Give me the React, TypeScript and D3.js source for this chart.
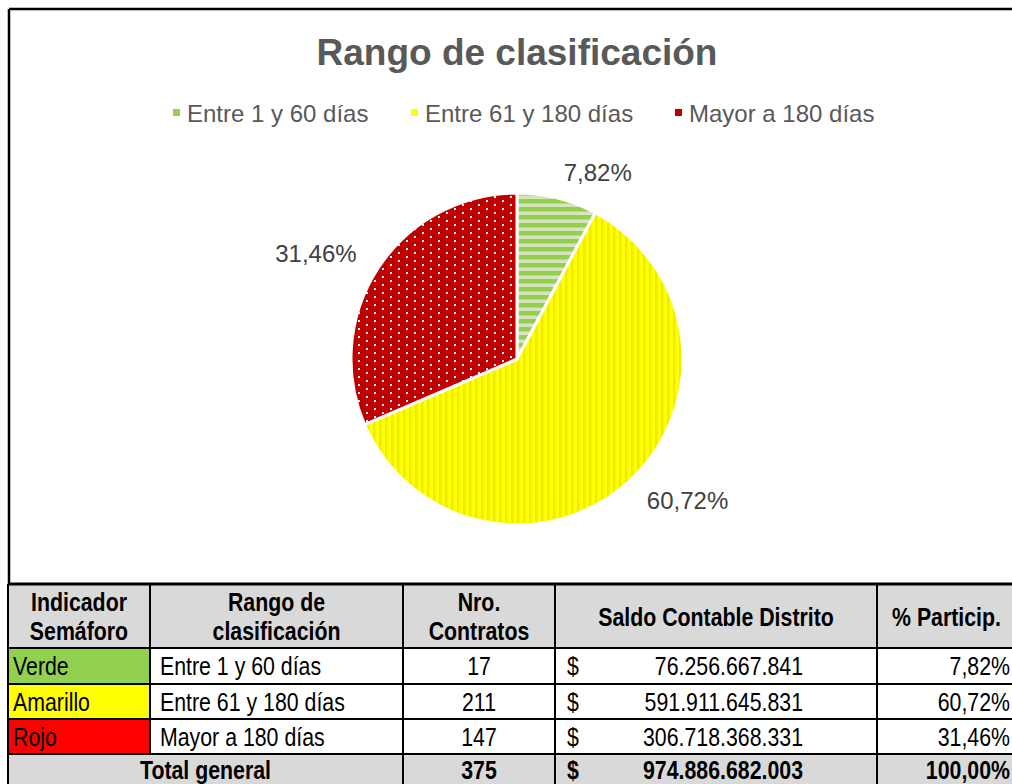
import React from "react";
import * as d3 from "d3";

const title = "Rango de clasificación";
const categories = ["Entre 1 y 60 días", "Entre 61 y 180 días", "Mayor a 180 días"];
const indicators = ["Verde", "Amarillo", "Rojo"];
const contracts = [17, 211, 147];
const saldos = ["76.256.667.841", "591.911.645.831", "306.718.368.331"];
const saldoValues = [76256667841, 591911645831, 306718368331];
const percentLabels = ["7,82%", "60,72%", "31,46%"];
const totalContracts = "375";
const totalSaldo = "974.886.682.003";
const totalPercent = "100,00%";
const totalLabel = "Total general";
const headers = [["Indicador", "Semáforo"], ["Rango de", "clasificación"], ["Nro.", "Contratos"], ["Saldo Contable Distrito"], ["% Particip."]];

const patternIds = ["pGreen", "pYellow", "pRed"];
const legendColors = ["#92D050", "#FFFF00", "#C00000"];
const indicatorColors = ["#92D050", "#FFFF00", "#FF0000"];

const W = 1012, H = 784;
const cx = 517, cy = 359, R = 166;
const colX = [8, 150, 403, 555, 877, 1016];
const rowY = [584, 648, 684, 719, 754, 790];
const FONT = "'Liberation Sans', Arial, sans-serif";
const NARROW_SCALE = 0.82;
const TFS = 26;

type NTProps = { x: number; y: number; anchor?: "start" | "middle" | "end"; bold?: boolean; children: React.ReactNode };
function NText({ x, y, anchor = "start", bold = false, children }: NTProps) {
  return (
    <text
      transform={`translate(${x},${y}) scale(${NARROW_SCALE},1)`}
      textAnchor={anchor}
      dominantBaseline="central"
      fontFamily={FONT}
      fontSize={TFS}
      fontWeight={bold ? "bold" : "normal"}
      fill="#000"
    >
      {children}
    </text>
  );
}

export default function App() {
  const pie = d3.pie<number>().sort(null).value((d) => d)(saldoValues);
  const arc = d3.arc<d3.PieArcDatum<number>>().innerRadius(0).outerRadius(R);
  const labelR = 192;
  const legendX = [187, 425, 689];

  return (
    <svg width={W} height={H} style={{ position: "absolute", left: 0, top: 0, background: "#fff" }}>
      <defs>
        <pattern id="pGreen" width="8" height="8" patternUnits="userSpaceOnUse">
          <rect width="8" height="8" fill="#D8E4BC" />
          <rect y="0" width="8" height="4.5" fill="#92D050" />
        </pattern>
        <pattern id="pYellow" width="6" height="6" patternUnits="userSpaceOnUse">
          <rect width="6" height="6" fill="#FFFF00" />
          <rect x="0" width="2.5" height="6" fill="#EDED00" />
        </pattern>
        <pattern id="pRed" width="16" height="8" patternUnits="userSpaceOnUse">
          <rect width="16" height="8" fill="#C00000" />
          <rect x="1" y="1" width="2" height="2" fill="#fff" />
          <rect x="9" y="5" width="2" height="2" fill="#fff" />
        </pattern>
      </defs>
      <rect width={W} height={H} fill="#fff" />
      <line x1={9} y1={9} x2={W} y2={9} stroke="#000" strokeWidth={2.5} />
      <line x1={9} y1={9} x2={9} y2={rowY[0]} stroke="#000" strokeWidth={2.5} />

      <text x={cx} y={52} textAnchor="middle" dominantBaseline="central" fontFamily={FONT} fontWeight="bold" fontSize={37} fill="#595959">{title}</text>

      {categories.map((c, i) => (
        <g key={c}>
          <rect x={legendX[i] - 14} y={109} width={7} height={7} fill={legendColors[i]} />
          <text x={legendX[i]} y={113} dominantBaseline="central" fontFamily={FONT} fontSize={24} fill="#595959">{c}</text>
        </g>
      ))}

      <g transform={`translate(${cx},${cy})`}>
        {pie.map((p, i) => (
          <path key={i} d={arc(p) || ""} fill={`url(#${patternIds[i]})`} stroke="#fff" strokeWidth={3} strokeLinejoin="round" />
        ))}
        {pie.map((p, i) => {
          const a = (p.startAngle + p.endAngle) / 2;
          const x = labelR * Math.sin(a);
          const y = -labelR * Math.cos(a);
          return (
            <text key={i} x={x} y={y} textAnchor={x >= 0 ? "start" : "end"} dominantBaseline="central" fontFamily={FONT} fontSize={24} fill="#404040">
              {percentLabels[i]}
            </text>
          );
        })}
      </g>

      <g>
        <rect x={colX[0]} y={rowY[0]} width={colX[5] - colX[0]} height={rowY[1] - rowY[0]} fill="#D9D9D9" />
        <rect x={colX[0]} y={rowY[4]} width={colX[5] - colX[0]} height={rowY[5] - rowY[4]} fill="#D9D9D9" />
        {indicators.map((ind, i) => (
          <rect key={ind} x={colX[0]} y={rowY[i + 1]} width={colX[1] - colX[0]} height={rowY[i + 2] - rowY[i + 1]} fill={indicatorColors[i]} />
        ))}
        {headers.map((h, j) => {
          const mx = (colX[j] + colX[j + 1]) / 2;
          const my = (rowY[0] + rowY[1]) / 2;
          return h.map((line, k) => (
            <NText key={`${j}-${k}`} x={mx} y={h.length === 1 ? my + 1 : my - 14 + k * 29} anchor="middle" bold>{line}</NText>
          ));
        })}
        {indicators.map((ind, i) => {
          const my = (rowY[i + 1] + rowY[i + 2]) / 2;
          return (
            <g key={ind}>
              <NText x={colX[0] + 5} y={my}>{ind}</NText>
              <NText x={colX[1] + 10} y={my}>{categories[i]}</NText>
              <NText x={(colX[2] + colX[3]) / 2} y={my} anchor="middle">{contracts[i]}</NText>
              <NText x={colX[3] + 12} y={my}>$</NText>
              <NText x={803} y={my} anchor="end">{saldos[i]}</NText>
              <NText x={1010} y={my} anchor="end">{percentLabels[i]}</NText>
            </g>
          );
        })}
        {(() => {
          const my = (rowY[4] + rowY[5]) / 2 - 2;
          return (
            <g>
              <NText x={(colX[0] + colX[2]) / 2} y={my} anchor="middle" bold>{totalLabel}</NText>
              <NText x={(colX[2] + colX[3]) / 2} y={my} anchor="middle" bold>{totalContracts}</NText>
              <NText x={colX[3] + 12} y={my} bold>$</NText>
              <NText x={803} y={my} anchor="end" bold>{totalSaldo}</NText>
              <NText x={1010} y={my} anchor="end" bold>{totalPercent}</NText>
            </g>
          );
        })()}
        {rowY.slice(0, 5).map((y, i) => (
          <line key={`h${i}`} x1={colX[0]} x2={W} y1={y} y2={y} stroke="#000" strokeWidth={i === 0 ? 3 : 2} />
        ))}
        {colX.slice(0, 5).map((x, j) => (
          <line key={`v${j}`} x1={x} x2={x} y1={rowY[0]} y2={j === 1 ? rowY[4] : H} stroke="#000" strokeWidth={2} />
        ))}
      </g>
    </svg>
  );
}
